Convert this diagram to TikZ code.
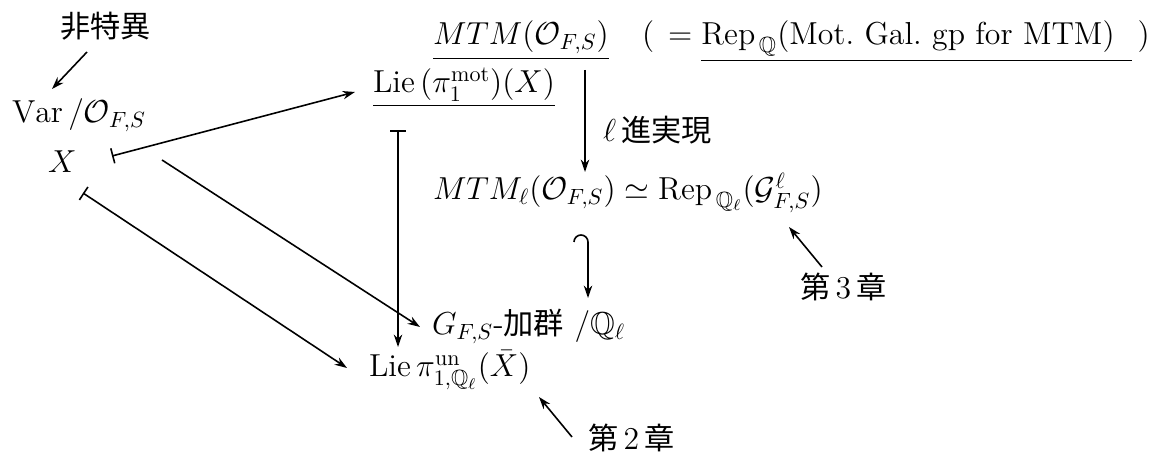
\documentclass[tikz,border=0pt]{standalone}
\usepackage{amsmath,amssymb}
\usepackage{fontspec}
\newfontfamily\cjk[Scale=0.95]{Noto Sans CJK JP}
\usetikzlibrary{arrows.meta}
\tikzset{
  lbl/.style={anchor=base west, inner sep=0pt, outer sep=0pt, font=\Large},
  arr/.style={line width=0.72pt, -{Stealth[length=5.6pt,width=3.8pt]}},
  maparr/.style={line width=0.72pt, {Bar[width=7pt]}-{Stealth[length=5.6pt,width=3.8pt]}}
}
\begin{document}
\begin{tikzpicture}[x=0.453pt,y=-0.453pt]
\useasboundingbox (0,0) rectangle (1151,454);
% nodes
\node[lbl] (nonsing) at (60,38) {\cjk 非特異};
\node[lbl] (var) at (12,123) {$\mathrm{Var}\,/\mathcal{O}_{F,S}$};
\node[lbl] (X) at (48,173) {$X$};
\node[lbl] (mtm) at (433,45) {$\underline{MTM(\mathcal{O}_{F,S})}$};
\node[lbl] (eqrep) at (642,45) {$(\;\,=\underline{\mathrm{Rep}_{\,\mathbb{Q}}(\text{Mot.\ Gal.\ gp for MTM})\;\;}\,)$};
\node[lbl] (liemot) at (373,93) {$\underline{\mathrm{Lie}\,(\pi_1^{\mathrm{mot}})(X)}$};
\node[lbl] (real) at (603,142) {$\ell$\,{\cjk 進実現}};
\node[lbl] (mtml) at (433,200) {$MTM_\ell(\mathcal{O}_{F,S})\simeq\mathrm{Rep}_{\,\mathbb{Q}_\ell}(\mathcal{G}^\ell_{F,S})$};
\node[lbl] (ch3) at (800,299) {{\cjk 第}\,3\,{\cjk 章}};
\node[lbl] (gmod) at (432,335) {$G_{F,S}$-{\cjk 加群}\ $/\mathbb{Q}_\ell$};
\node[lbl] (lieun) at (369,377) {$\mathrm{Lie}\,\pi^{\mathrm{un}}_{1,\mathbb{Q}_\ell}(\bar{X})$};
\node[lbl] (ch2) at (588,450) {{\cjk 第}\,2\,{\cjk 章}};
% connectors
\draw[arr] ([shift={(27,14)}]nonsing.base west) -- ([shift={(40,-34)}]var.base west);
\draw[maparr] ([shift={(64,-17)}]X.base west) -- ([shift={(-18,-1)}]liemot.base west);
\draw[arr] ([shift={(114,-13)}]X.base west) -- ([shift={(-12,-8)}]gmod.base west);
\draw[maparr] ([shift={(35,20)}]X.base west) -- ([shift={(-22,-9)}]lieun.base west);
\draw[maparr] ([shift={(25,37)}]liemot.base west) -- ([shift={(29,-30)}]lieun.base west);
\draw[arr] ([shift={(152,25)}]mtm.base west) -- ([shift={(152,-28)}]mtml.base west);
\draw[arr] ([shift={(141,42)}]mtml.base west) arc[start angle=180,end angle=360,radius=7] -- ([shift={(156,-37)}]gmod.base west);
\draw[arr] ([shift={(22,-32)}]ch3.base west) -- ([shift={(356,27)}]mtml.base west);
\draw[arr] ([shift={(-16,-13)}]ch2.base west) -- ([shift={(170,20)}]lieun.base west);
\end{tikzpicture}
\end{document}
